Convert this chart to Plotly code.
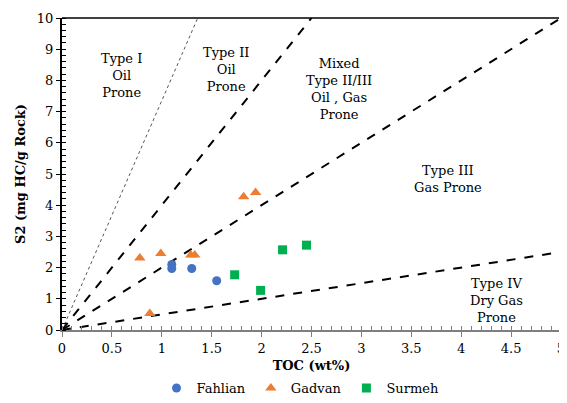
import plotly.graph_objects as go

# Data
fahlian_toc = [1.10, 1.10, 1.30, 1.55]
fahlian_s2 = [2.10, 1.97, 1.97, 1.58]
gadvan_toc = [0.78, 0.99, 1.29, 1.33, 1.82, 1.94, 0.88]
gadvan_s2 = [2.31, 2.45, 2.40, 2.40, 4.27, 4.41, 0.53]
surmeh_toc = [1.73, 1.99, 2.21, 2.45]
surmeh_s2 = [1.77, 1.27, 2.57, 2.72]

# Kerogen type boundary lines (TOC, S2)
type1_x = [0, 1.36]; type1_y = [0, 10]
type2_x = [0, 2.5]; type2_y = [0, 10]
mixed_x = [0, 5]; mixed_y = [0, 10]
type4_x = [0, 5]; type4_y = [0, 2.5]

zone_labels = ["Type I<br>Oil<br>Prone", "Type II<br>Oil<br>Prone",
               "Mixed<br>Type II/III<br>Oil , Gas<br>Prone",
               "Type III<br>Gas Prone", "Type IV<br>Dry Gas<br>Prone"]
zone_x = [0.60, 1.64, 2.78, 3.87, 4.35]
zone_y = [8.16, 8.35, 7.71, 4.85, 0.96]

serif = "DejaVu Serif"

fig = go.Figure()
fig.add_trace(go.Scatter(x=type1_x, y=type1_y, mode="lines", showlegend=False,
                         line=dict(color="#555555", width=1, dash="dot"), hoverinfo="skip"))
for lx, ly in [(type2_x, type2_y), (mixed_x, mixed_y), (type4_x, type4_y)]:
    fig.add_trace(go.Scatter(x=lx, y=ly, mode="lines", showlegend=False,
                             line=dict(color="black", width=2, dash="dash"), hoverinfo="skip"))

fig.add_trace(go.Scatter(x=fahlian_toc, y=fahlian_s2, mode="markers", name="Fahlian",
                         marker=dict(symbol="circle", size=9, color="#4472C4")))
fig.add_trace(go.Scatter(x=gadvan_toc, y=gadvan_s2, mode="markers", name="Gadvan",
                         marker=dict(symbol="triangle-up", size=10, color="#ED7D31")))
fig.add_trace(go.Scatter(x=surmeh_toc, y=surmeh_s2, mode="markers", name="Surmeh",
                         marker=dict(symbol="square", size=9, color="#00B050")))

for t, x, y in zip(zone_labels, zone_x, zone_y):
    fig.add_annotation(x=x, y=y, text=t, showarrow=False,
                       font=dict(family=serif, size=13, color="black"), align="center")

# frame top & right
fig.add_shape(type="line", xref="paper", yref="paper", x0=0, x1=1, y0=1, y1=1,
              line=dict(color="black", width=1.5))
fig.add_shape(type="line", xref="paper", yref="paper", x0=1, x1=1, y0=0, y1=1,
              line=dict(color="black", width=1.5))

# page body has an 8px margin: figure is sized/placed to compensate
fig.update_layout(
    width=559, height=395,
    margin=dict(l=54, r=6, t=10, b=73),
    plot_bgcolor="white", paper_bgcolor="white",
    font=dict(family=serif, size=13, color="black"),
    legend=dict(orientation="h", x=0.478, xanchor="center", yref="container",
                y=0.0, yanchor="bottom",
                font=dict(family=serif, size=13), itemwidth=30, tracegroupgap=0),
    xaxis=dict(range=[0, 5], dtick=0.5, showgrid=False, zeroline=False, automargin=False,
               showline=True, linecolor="#7f7f7f", linewidth=2,
               ticks="outside", ticklen=5, tickcolor="#7f7f7f",
               ticklabeloverflow="allow",
               minor=dict(dtick=0.1, ticks="inside", ticklen=4, tickcolor="#7f7f7f"),
               title=dict(text="<b>TOC (wt%)</b>", standoff=17, font=dict(size=13))),
    yaxis=dict(range=[0, 10], dtick=1, showgrid=False, zeroline=False, automargin=False,
               showline=True, linecolor="black", linewidth=2,
               ticks="outside", ticklen=4, tickcolor="black",
               minor=dict(dtick=0.2, ticks="inside", ticklen=4, tickcolor="black"),
               title=dict(text="<b>S2 (mg HC/g Rock)</b>", standoff=8, font=dict(size=13))),
)

fig.write_html("out.html")
